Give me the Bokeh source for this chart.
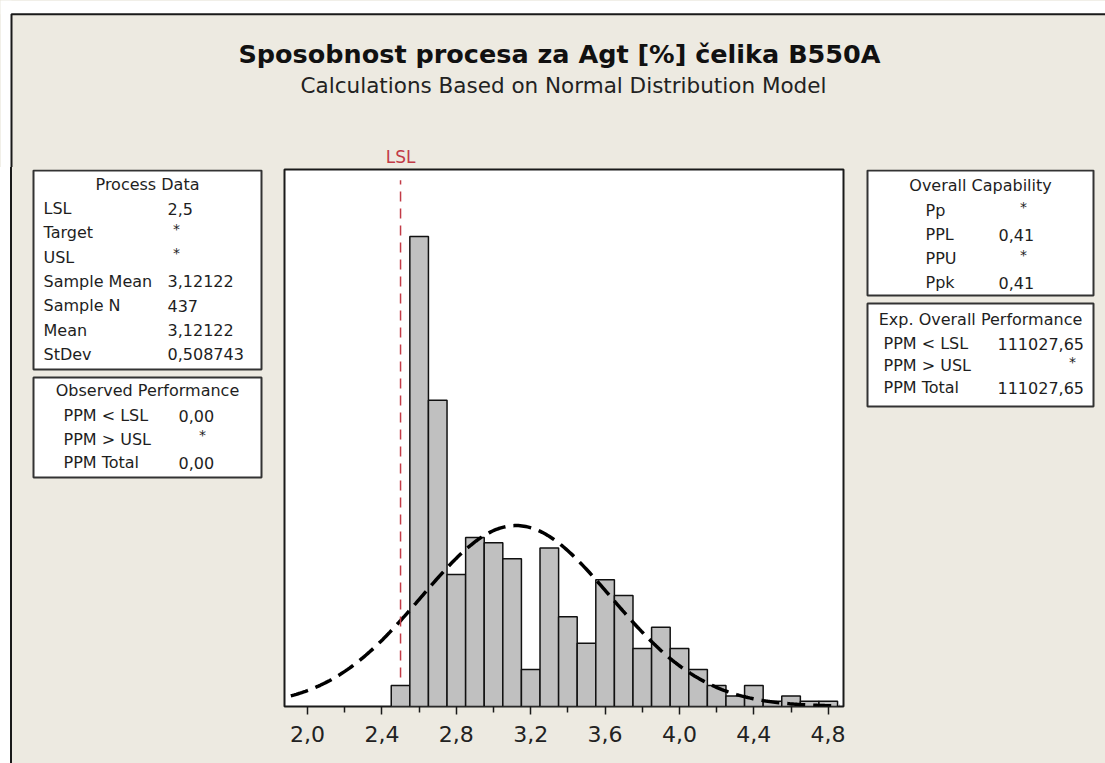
import numpy as np
from bokeh.plotting import figure
from bokeh.layouts import column, row
from bokeh.models import Range1d, FixedTicker
from bokeh.core.properties import value
from bokeh.embed import file_html
from bokeh.resources import INLINE

# ---------------- data ----------------
TITLE = "Sposobnost procesa za Agt [%] čelika B550A"
SUBTITLE = "Calculations Based on Normal Distribution Model"

BIN_CENTERS = [2.5, 2.6, 2.7, 2.8, 2.9, 3.0, 3.1, 3.2, 3.3, 3.4, 3.5, 3.6,
               3.7, 3.8, 3.9, 4.0, 4.1, 4.2, 4.3, 4.4, 4.5, 4.6, 4.7, 4.8]
COUNTS = [4, 89, 58, 25, 32, 31, 28, 7, 30, 17, 12, 24,
          21, 11, 15, 11, 7, 4, 2, 4, 1, 2, 1, 1]
BIN_WIDTH = 0.1

LSL = 2.5
MEAN = 3.12122
STDEV = 0.508743
SAMPLE_N = 437

TICK_VALUES = [2.0, 2.4, 2.8, 3.2, 3.6, 4.0, 4.4, 4.8]
TICK_LABELS = ["2,0", "2,4", "2,8", "3,2", "3,6", "4,0", "4,4", "4,8"]
MINOR_TICKS = [2.2, 2.6, 3.0, 3.4, 3.8, 4.2, 4.6]

PROCESS_TITLE = "Process Data"
PROCESS_LABELS = ["LSL", "Target", "USL", "Sample Mean", "Sample N", "Mean", "StDev"]
PROCESS_VALUES = ["2,5", "*", "*", "3,12122", "437", "3,12122", "0,508743"]

OBSERVED_TITLE = "Observed Performance"
OBSERVED_LABELS = ["PPM < LSL", "PPM > USL", "PPM Total"]
OBSERVED_VALUES = ["0,00", "*", "0,00"]

CAPABILITY_TITLE = "Overall Capability"
CAPABILITY_LABELS = ["Pp", "PPL", "PPU", "Ppk"]
CAPABILITY_VALUES = ["*", "0,41", "*", "0,41"]

EXPECTED_TITLE = "Exp. Overall Performance"
EXPECTED_LABELS = ["PPM < LSL", "PPM > USL", "PPM Total"]
EXPECTED_VALUES = ["111027,65", "*", "111027,65"]

# ---------------- style / layout (page pixel coordinates) ----------------
BG = "#EDEAE1"
FONT = value("DejaVu Sans")
TXT = "#1E1E1E"
BOX_LINE = "#333333"
FRAME_LINE = "#1A1A1A"
RED = "#C23B47"

TOTAL_W = 1105
TOP_H = 167
ROW_H = 596
LEFT_W = 282
MAIN_W = 563
RIGHT_W = TOTAL_W - LEFT_W - MAIN_W

FRAME_TOP = TOP_H + 2          # 169
FRAME_H = 537
FRAME_BOTTOM = FRAME_TOP + FRAME_H   # 706
BORDER_BOTTOM = ROW_H - 2 - FRAME_H

XMIN, XMAX = 1.876, 4.882
YMAX = 101.7
FRAME_W = MAIN_W - 4

BORDER_X = 11
BORDER_Y = 13.7


def side_fig(x0, w, y_top, y_bottom, h, top_border, bottom_border, transparent=False):
    f = figure(width=w, height=h, x_range=Range1d(x0, x0 + w),
               y_range=Range1d(y_bottom, y_top),
               x_axis_type=None, y_axis_type=None, toolbar_location=None,
               output_backend="svg", min_border_left=0, min_border_right=0,
               min_border_top=top_border, min_border_bottom=bottom_border,
               outline_line_color=None, background_fill_color=BG,
               border_fill_color=BG)
    if transparent:
        f.background_fill_alpha = 0
        f.border_fill_alpha = 0
    return f


def draw_box(f, x0, x1, y0, y1, title, labels, values, title_y, row_y0, row_step,
             label_x, value_x, star_x):
    f.quad(left=[x0], right=[x1], top=[y0], bottom=[y1], fill_color="white",
           line_color=BOX_LINE, line_width=2)
    f.text(x=[(x0 + x1) / 2], y=[title_y], text=[title], text_font=FONT,
           text_font_size="16px", text_align="center", text_baseline="middle",
           text_color=TXT)
    ys = [row_y0 + i * row_step for i in range(len(labels))]
    f.text(x=[label_x] * len(labels), y=ys, text=labels, text_font=FONT,
           text_font_size="16px", text_align="left", text_baseline="middle",
           text_color=TXT)
    vx, vy, vt = [], [], []
    sx, sy, st = [], [], []
    for v, y in zip(values, ys):
        if v == "*":
            sx.append(star_x); sy.append(y - 4); st.append(v)
        else:
            vx.append(value_x); vy.append(y); vt.append(v)
    f.text(x=vx, y=vy, text=vt, text_font=FONT, text_font_size="16px",
           text_align="left", text_baseline="middle", text_color=TXT)
    f.text(x=sx, y=sy, text=st, text_font=FONT, text_font_size="14px",
           text_align="center", text_baseline="middle", text_color=TXT)


# ---------------- top figure (titles, LSL label) ----------------
top = side_fig(0, TOTAL_W, 0, TOP_H, TOP_H, 0, 0)
top.quad(left=[0, 0], right=[TOTAL_W, BORDER_X], top=[0, 0], bottom=[BORDER_Y, TOP_H],
         fill_color="white", line_color=None)
top.line(x=[BORDER_X, BORDER_X, TOTAL_W], y=[TOP_H, BORDER_Y, BORDER_Y],
         line_color=FRAME_LINE, line_width=2)
top.text(x=[559], y=[53], text=[TITLE], text_font=FONT, text_font_size="25.5px",
         text_font_style="bold", text_align="center", text_baseline="alphabetic",
         text_color="#111111")
top.text(x=[563], y=[85], text=[SUBTITLE], text_font=FONT, text_font_size="21.5px",
         text_align="center", text_baseline="alphabetic", text_color="#222222")
lsl_px = (LEFT_W + 2) + (LSL - XMIN) * FRAME_W / (XMAX - XMIN)
top.text(x=[lsl_px], y=[166], text=["LSL"], text_font=FONT, text_font_size="17px",
         text_align="center", text_baseline="bottom", text_color=RED)

# ---------------- left figure ----------------
left = side_fig(0, LEFT_W, FRAME_TOP, FRAME_BOTTOM, ROW_H, 2, BORDER_BOTTOM,
                transparent=True)
draw_box(left, 33, 261, 170, 369, PROCESS_TITLE, PROCESS_LABELS, PROCESS_VALUES,
         184, 208, 24.3, 43, 167, 176)
draw_box(left, 33, 261, 377, 477, OBSERVED_TITLE, OBSERVED_LABELS, OBSERVED_VALUES,
         390, 415, 23.5, 63, 178, 202)

# ---------------- right figure ----------------
x_right = LEFT_W + MAIN_W
right = side_fig(x_right, RIGHT_W, FRAME_TOP, FRAME_BOTTOM, ROW_H, 2, BORDER_BOTTOM)
draw_box(right, 867, 1093, 170, 295, CAPABILITY_TITLE, CAPABILITY_LABELS,
         CAPABILITY_VALUES, 185, 210, 24, 925, 998, 1023)
draw_box(right, 867, 1093, 303, 406, EXPECTED_TITLE, EXPECTED_LABELS, EXPECTED_VALUES,
         319, 343, 22, 883, 997, 1072)

# ---------------- main histogram ----------------
p = figure(width=MAIN_W, height=ROW_H, x_range=Range1d(XMIN, XMAX),
           y_range=Range1d(0, YMAX), toolbar_location=None, output_backend="svg",
           y_axis_location=None, min_border_left=2, min_border_right=2,
           min_border_top=2, min_border_bottom=BORDER_BOTTOM,
           background_fill_color="white", border_fill_color=BG,
           outline_line_color=FRAME_LINE, outline_line_width=2)
p.grid.visible = False

lefts = [c - BIN_WIDTH / 2 for c in BIN_CENTERS]
rights = [c + BIN_WIDTH / 2 for c in BIN_CENTERS]
p.quad(left=lefts, right=rights, bottom=0, top=COUNTS, fill_color="#C0C0C0",
       line_color="#111111", line_width=1.5)

# fitted normal curve (from the stated Mean / StDev)
xs = np.linspace(1.91, 4.86, 300)
scale = SAMPLE_N * BIN_WIDTH
ys = scale * np.exp(-0.5 * ((xs - MEAN) / STDEV) ** 2) / (STDEV * np.sqrt(2 * np.pi))
p.line(xs, ys, line_color="black", line_width=3.5, line_dash="18 8")

# LSL reference line
p.segment(x0=[LSL], x1=[LSL], y0=[YMAX * 0.054], y1=[YMAX * 0.98],
          line_color=RED, line_width=1.5, line_dash="10 7")

ax = p.xaxis[0]
ax.ticker = FixedTicker(ticks=TICK_VALUES, minor_ticks=MINOR_TICKS)
ax.major_label_overrides = {t: l for t, l in zip(TICK_VALUES, TICK_LABELS)}
ax.axis_line_color = None
ax.major_tick_in = 0
ax.major_tick_out = 8
ax.minor_tick_in = 0
ax.minor_tick_out = 6
ax.major_tick_line_color = FRAME_LINE
ax.minor_tick_line_color = FRAME_LINE
ax.major_tick_line_width = 1.5
ax.minor_tick_line_width = 1.5
ax.major_label_standoff = 11
ax.major_label_text_font = "DejaVu Sans"
ax.major_label_text_font_size = "22px"
ax.major_label_text_color = "#222222"

row_bg = ("linear-gradient(to right, #FFFFFF 0px, #FFFFFF 10px, %s 10px, %s 12px, "
          "%s 12px, %s 100%%)" % (FRAME_LINE, FRAME_LINE, BG, BG))
layout = column(top, row(left, p, right, spacing=0, styles={"background": row_bg}),
                spacing=0, styles={"background-color": BG})

open("out.html", "w").write(file_html(layout, INLINE))
